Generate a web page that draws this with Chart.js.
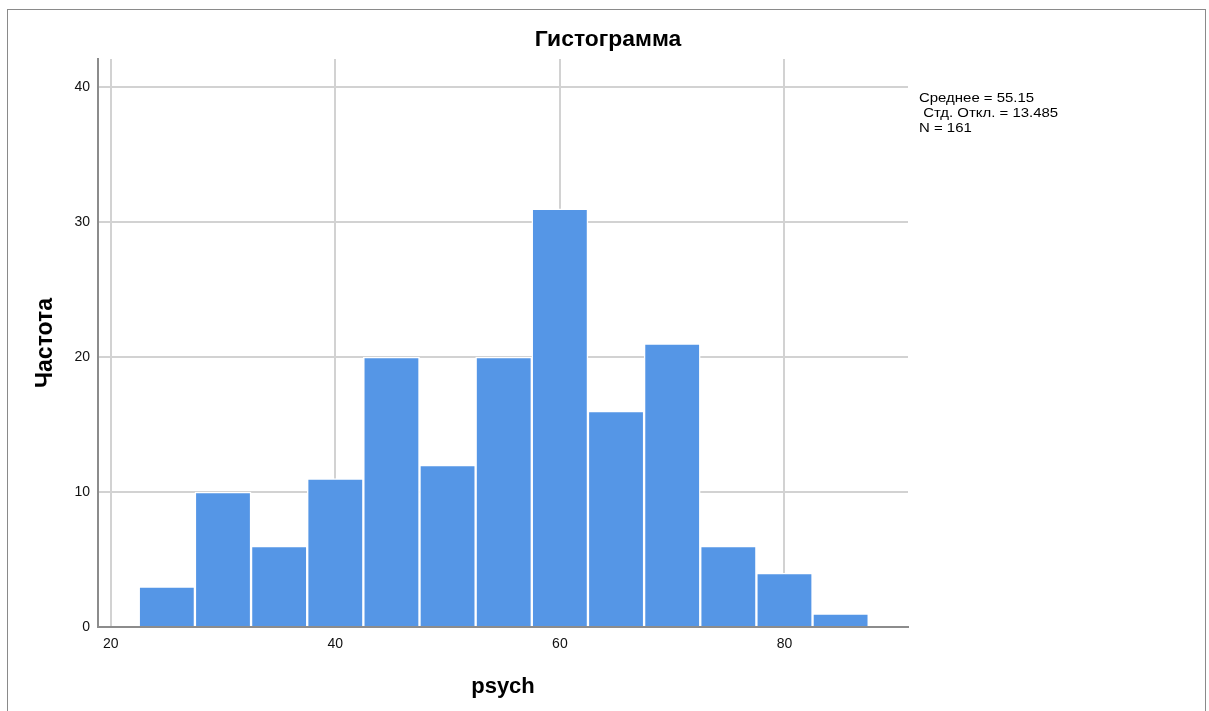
<!DOCTYPE html>
<html>
<head>
<meta charset="utf-8">
<script src="https://cdn.jsdelivr.net/npm/chart.js@4"></script>
<style>
    html, body { margin: 0; padding: 0; background: #fff; }
    #wrap { position: relative; width: 1209px; height: 711px; overflow: hidden; }
    #frame { position: absolute; left: 7px; top: 9px; width: 1197px; height: 720px; border: 1px solid #8a8a8a; border-bottom: none; }
    canvas { position: absolute; left: 0; top: 0; }
</style>
</head>
<body>
<div id="wrap">
    <div id="frame"></div>
    <canvas id="chart-hist" width="1209" height="711"></canvas>
</div>
<script>
// Histogram data (bin centres, width 5)
const binCenters = [25, 30, 35, 40, 45, 50, 55, 60, 65, 70, 75, 80, 85];
const counts = [3, 10, 6, 11, 20, 12, 20, 31, 16, 21, 6, 4, 1];
const xTickValues = [20, 40, 60, 80];
const yTickValues = [0, 10, 20, 30, 40];
const titleText = 'Гистограмма';
const xTitle = 'psych';
const yTitle = 'Частота';
const statsLines = ['Среднее = 55.15', ' Стд. Откл. = 13.485', 'N = 161'];

const FONT = "'Liberation Sans', Arial, sans-serif";

// draws the title and the stats box (SPSS text is a bit wider than Arial)
const textPlugin = {
    id: 'spssText',
    afterDraw(chart) {
        const ctx = chart.ctx;
        ctx.save();
        ctx.fillStyle = '#000';
        ctx.textBaseline = 'middle';

        ctx.save();
        ctx.translate(608, 40);
        ctx.scale(1.04, 1);
        ctx.font = 'bold 22px ' + FONT;
        ctx.textAlign = 'center';
        ctx.fillText(titleText, 0, 0);
        ctx.restore();

        ctx.save();
        ctx.translate(919, 0);
        ctx.scale(1.15, 1);
        ctx.font = '13px ' + FONT;
        ctx.textAlign = 'left';
        statsLines.forEach((line, i) => ctx.fillText(line, 0, 98 + i * 15));
        ctx.restore();

        ctx.restore();
    }
};

document.addEventListener('DOMContentLoaded', () => {
    Chart.defaults.font.family = FONT;
    Chart.defaults.color = '#000';

    const ctx = document.getElementById('chart-hist');
    new Chart(ctx, {
        type: 'bar',
        data: {
            datasets: [{
                data: binCenters.map((x, i) => ({ x: x, y: counts[i] })),
                backgroundColor: '#5596e6',
                borderColor: '#ffffff',
                borderWidth: 1.5,
                barPercentage: 1,
                categoryPercentage: 1
            }]
        },
        options: {
            responsive: false,
            animation: false,
            layout: { padding: { left: 0, top: 59, right: 301, bottom: 0 } },
            plugins: { legend: { display: false }, tooltip: { enabled: false } },
            scales: {
                x: {
                    type: 'linear',
                    offset: false,
                    min: 18.87,
                    max: 91,
                    afterFit: s => { s.height = 84; },
                    afterBuildTicks: s => { s.ticks = xTickValues.map(v => ({ value: v })); },
                    grid: { color: '#d2d2d2', lineWidth: 2, drawTicks: false, offset: false },
                    border: { display: true, color: '#8c8c8c', width: 2 },
                    ticks: { padding: 9, font: { size: 14 }, color: '#111', maxRotation: 0 },
                    title: { display: true, text: xTitle, font: { size: 22, weight: 'bold' }, padding: { top: 0, bottom: 11 } }
                },
                y: {
                    min: 0,
                    max: 42.1,
                    afterFit: s => { s.width = 98; },
                    afterBuildTicks: s => { s.ticks = yTickValues.map(v => ({ value: v })); },
                    grid: { color: '#d2d2d2', lineWidth: 2, drawTicks: false },
                    border: { display: true, color: '#8c8c8c', width: 2 },
                    ticks: { padding: 8, font: { size: 14 }, color: '#111' },
                    title: { display: true, text: yTitle, font: { size: 23, weight: 'bold' }, padding: { top: 32, bottom: 0 } }
                }
            }
        },
        plugins: [textPlugin]
    });
});
</script>
</body>
</html>
